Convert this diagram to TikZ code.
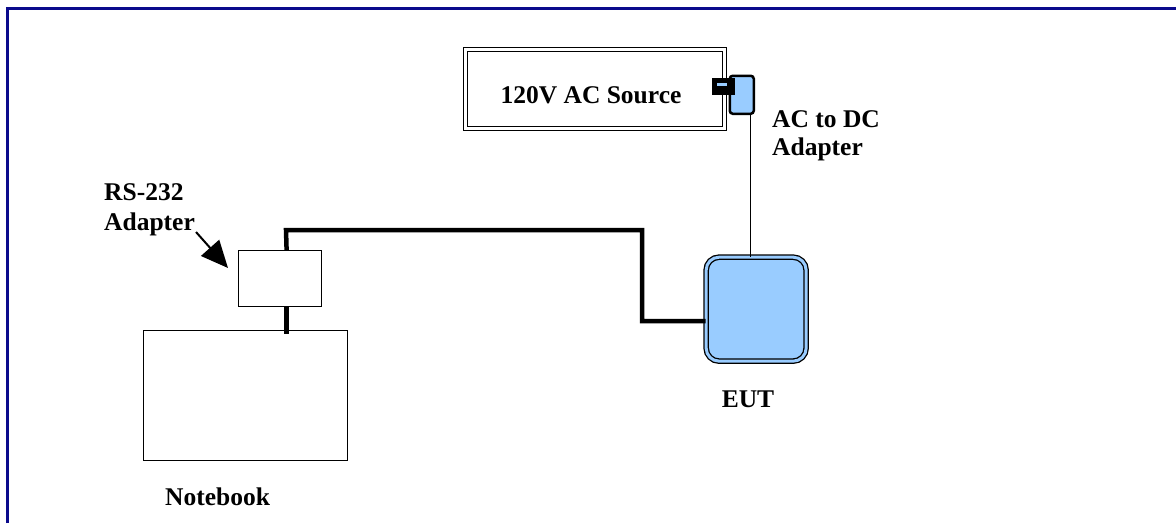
\documentclass[tikz,border=0pt]{standalone}
\usepackage{fontspec}
\setmainfont{Liberation Serif}
\usetikzlibrary{arrows.meta}
\definecolor{frameblue}{RGB}{10,10,140}
\definecolor{lightblue}{RGB}{153,204,255}
\begin{document}
\begin{tikzpicture}[x=1pt,y=-1pt,
  lbl/.style={font=\fontsize{25.5}{29}\selectfont\bfseries, inner sep=0pt},
  box/.style={draw, line width=1.2pt, inner sep=0pt, anchor=north west},
  cable/.style={line width=4.5pt},
  ]
\useasboundingbox (0,0) rectangle (1176,523);
\draw[frameblue, line width=3pt] (7,523) -- (7,8.5) -- (1176,8.5);

% AC source
\node[draw, double, line width=1.2pt, double distance=2.8pt, minimum width=259pt, minimum height=79pt, anchor=north west, inner sep=0pt] (ac) at (465,48.5) {};
\node[lbl, anchor=base] (actext) at (591,103) {120V AC Source};

% AC to DC adapter
\node[draw, fill=lightblue, line width=2.5pt, rounded corners=3pt, minimum width=24pt, minimum height=38pt, anchor=north west, inner sep=0pt] (dcad) at (728.5,74.5) {};
\node[fill=black, minimum width=23pt, minimum height=17pt, anchor=north west, inner sep=0pt] (plug) at (712,78) {};
\fill[lightblue] (717,83) rectangle (727,85.5);

% EUT
\node[draw, double=lightblue, fill=lightblue, line width=1.3pt, double distance=3pt, rounded corners=13pt, minimum width=100pt, minimum height=104pt, anchor=north west, inner sep=0pt] (eut) at (705.5,256.5) {};

% RS-232 adapter and notebook
\node[box, minimum width=83pt, minimum height=56pt] (rs) at (238,250) {};
\node[box, minimum width=204pt, minimum height=130pt] (nb) at (143,330) {};

% cables
\coordinate (c1) at (286,230);
\coordinate (c2) at (642,230);
\coordinate (c3) at (642,321);
\draw[cable] ([xshift=6.5pt]rs.north) -- (c1) -- (c2) -- (c3) -- (c3 -| eut.west);
\draw[cable] ([xshift=6.5pt]rs.south) -- ([xshift=6.5pt,yshift=-4pt]rs.south |- nb.north);
\draw[line width=1.5pt] ([xshift=8.5pt]dcad.south) -- ([xshift=8.5pt]dcad.south |- eut.north);

% labels
\node[lbl, anchor=base west] (rslbl) at (104,200) {RS-232};
\node[lbl, anchor=base west] (rslbl2) at (104,230) {Adapter};
\coordinate (arrtail) at (196,232);
\coordinate (arrtip) at (228,268);
\draw[line width=2pt, -{Triangle[length=27pt,width=24pt]}] (arrtail) -- (arrtip);
\node[lbl, anchor=base west] (dclbl) at (772,127) {AC to DC};
\node[lbl, anchor=base west] (dclbl2) at (772,155) {Adapter};
\node[lbl, anchor=base] (eutlbl) at (748,407) {EUT};
\node[lbl, anchor=base west] (nblbl) at (165,505) {Notebook};
\end{tikzpicture}
\end{document}
